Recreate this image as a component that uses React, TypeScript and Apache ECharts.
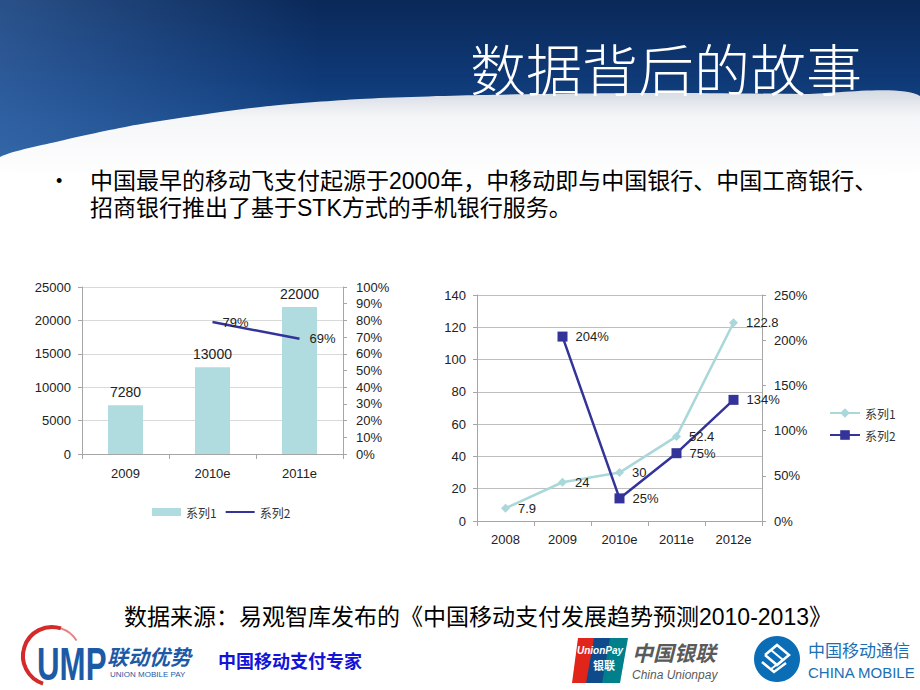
import React, { useEffect, useRef } from "react";
import * as echarts from "echarts";

// ---- data ----
const leftCategories = ["2009", "2010e", "2011e"];
const leftUsers = [7280, 13000, 22000];
const leftGrowth = [null, 0.79, 0.69];

const rightCategories = ["2008", "2009", "2010e", "2011e", "2012e"];
const rightScale = [7.9, 24, 30, 52.4, 122.8];
const rightGrowth = [null, 2.04, 0.25, 0.75, 1.34];

const leftYTicks = { min: 0, max: 25000, interval: 5000 };
const leftPctTicks = { min: 0, max: 1, interval: 0.1 };
const rightYTicks = { min: 0, max: 140, interval: 20 };
const rightPctTicks = { min: 0, max: 2.5, interval: 0.5 };

const titleText = "数据背后的故事";
const bulletLines = [
  "中国最早的移动飞支付起源于2000年，中移动即与中国银行、中国工商银行、",
  "招商银行推出了基于STK方式的手机银行服务。",
];
const sourceText = "数据来源：易观智库发布的《中国移动支付发展趋势预测2010-2013》";

const FONT = "'Liberation Sans', Arial, 'Noto Sans CJK SC', sans-serif";
const CJK = "'Noto Sans CJK SC', sans-serif";
const DARK = "#333399";
const LIGHT = "#a9d7da";

const pct = (v: number) => Math.round(v * 100) + "%";

export default function App() {
  const ref = useRef<HTMLDivElement>(null);
  useEffect(() => {
    if (!ref.current) return;
    const chart = echarts.init(ref.current, null, { renderer: "svg" });
    const axisLabel = { fontSize: 13, color: "#222", fontFamily: FONT };
    const axisLine = { show: true, lineStyle: { color: "#a6a6a6", width: 1 } };
    const axisTick = { show: true, length: 4, lineStyle: { color: "#a6a6a6" } };

    const option: any = {
      animation: false,
      backgroundColor: "#ffffff",
      textStyle: { fontFamily: FONT },
      graphic: [
        // header banner
        {
          type: "rect",
          z: -20,
          shape: { x: 0, y: 0, width: 920, height: 165 },
          style: {
            fill: new echarts.graphic.LinearGradient(0, 0, 0, 1, [
              { offset: 0, color: "#0a2858" },
              { offset: 0.5, color: "#0f3a78" },
              { offset: 1, color: "#1c5294" },
            ]),
          },
        },
        {
          type: "rect",
          z: -19,
          shape: { x: 0, y: 0, width: 320, height: 165 },
          style: {
            fill: new echarts.graphic.LinearGradient(0, 0, 1, 0, [
              { offset: 0, color: "rgba(80,130,195,0.45)" },
              { offset: 1, color: "rgba(80,130,195,0)" },
            ]),
          },
        },
        {
          type: "polygon",
          z: -18,
          shape: {
            points: [
              [0, 157], [60, 141], [130, 126], [200, 115], [270, 106],
              [360, 99], [480, 95], [650, 93], [800, 94], [920, 96],
              [920, 172], [0, 172],
            ],
            smooth: 0.25,
          },
          style: {
            fill: new echarts.graphic.LinearGradient(0, 0, 0, 1, [
              { offset: 0, color: "#d5dae2" },
              { offset: 0.3, color: "#f5f6f8" },
              { offset: 1, color: "#ffffff" },
            ]),
          },
        },
        {
          type: "text",
          z: 10,
          x: 470,
          y: 66,
          style: {
            text: titleText,
            fill: "#ffffff",
            font: `300 56px ${CJK}`,
            verticalAlign: "middle",
            textAlign: "left",
          },
        },
        // bullet
        {
          type: "text",
          x: 56,
          y: 181,
          style: { text: "•", fill: "#000", font: `18px ${FONT}`, verticalAlign: "middle" },
        },
        {
          type: "text",
          x: 90,
          y: 181,
          style: { text: bulletLines[0], fill: "#000", font: `23px ${FONT}`, verticalAlign: "middle" },
        },
        {
          type: "text",
          x: 90,
          y: 208,
          style: { text: bulletLines[1], fill: "#000", font: `23px ${FONT}`, verticalAlign: "middle" },
        },
        // source
        {
          type: "text",
          x: 478,
          y: 617,
          style: {
            text: sourceText,
            fill: "#000",
            font: `23px ${FONT}`,
            verticalAlign: "middle",
            textAlign: "center",
          },
        },
        // UMP logo
        {
          type: "arc",
          shape: { cx: 52, cy: 656, r: 29, startAngle: Math.PI * 0.6, endAngle: Math.PI * 1.6 },
          style: { stroke: "#d42a2a", lineWidth: 4, fill: null },
        },
        {
          type: "arc",
          shape: { cx: 52, cy: 656, r: 29, startAngle: Math.PI * 1.6, endAngle: Math.PI * 1.82 },
          style: { stroke: "#e88080", lineWidth: 2, fill: null },
        },
        {
          type: "text",
          x: 37,
          y: 664,
          scaleX: 0.68,
          style: {
            text: "UMP",
            fill: "#1d5aa5",
            font: `bold 46px ${FONT}`,
            verticalAlign: "middle",
          },
        },
        {
          type: "text",
          x: 107,
          y: 656,
          style: { text: "联动优势", fill: "#1d5aa5", font: `italic bold 21px ${CJK}`, verticalAlign: "middle" },
        },
        {
          type: "text",
          x: 110,
          y: 674,
          style: { text: "UNION MOBILE PAY", fill: "#1d5aa5", font: `8px ${FONT}`, verticalAlign: "middle" },
        },
        {
          type: "text",
          x: 218,
          y: 660,
          style: { text: "中国移动支付专家", fill: "#1414d8", font: `bold 18px ${CJK}`, verticalAlign: "middle" },
        },
        // UnionPay logo
        {
          type: "polygon",
          shape: { points: [[578, 638], [598, 638], [590, 683], [572, 683]] },
          style: { fill: "#e1251b" },
        },
        {
          type: "polygon",
          shape: { points: [[594, 638], [614, 638], [606, 683], [586, 683]] },
          style: { fill: "#0f4a8a" },
        },
        {
          type: "polygon",
          shape: { points: [[610, 638], [628, 638], [620, 683], [602, 683]] },
          style: { fill: "#00808a" },
        },
        {
          type: "text",
          x: 600,
          y: 650,
          style: { text: "UnionPay", fill: "#fff", font: `italic bold 10px ${FONT}`, textAlign: "center", verticalAlign: "middle" },
        },
        {
          type: "text",
          x: 604,
          y: 665,
          style: { text: "银联", fill: "#fff", font: `bold 11px ${CJK}`, textAlign: "center", verticalAlign: "middle" },
        },
        {
          type: "text",
          x: 632,
          y: 652,
          style: { text: "中国银联", fill: "#5a5a5a", font: `italic bold 21px ${CJK}`, verticalAlign: "middle" },
        },
        {
          type: "text",
          x: 632,
          y: 675,
          style: { text: "China Unionpay", fill: "#5a5a5a", font: `italic 12px ${FONT}`, verticalAlign: "middle" },
        },
        // China Mobile logo
        {
          type: "circle",
          shape: { cx: 777, cy: 659, r: 23 },
          style: { fill: "#0b6db5" },
        },
        {
          type: "polyline",
          shape: { points: [[765, 655], [777, 645], [789, 655], [777, 665], [765, 655]] },
          style: { stroke: "#fff", lineWidth: 2.5, fill: null },
        },
        {
          type: "polyline",
          shape: { points: [[762, 662], [774, 672], [786, 663]] },
          style: { stroke: "#fff", lineWidth: 2.5, fill: null },
        },
        {
          type: "polyline",
          shape: { points: [[771, 650], [783, 660], [771, 669]] },
          style: { stroke: "#fff", lineWidth: 2, fill: null },
        },
        {
          type: "text",
          x: 808,
          y: 649,
          style: { text: "中国移动通信", fill: "#1a6fb5", font: `17px ${CJK}`, verticalAlign: "middle" },
        },
        {
          type: "text",
          x: 808,
          y: 672,
          style: { text: "CHINA MOBILE", fill: "#1a6fb5", font: `15px ${FONT}`, verticalAlign: "middle" },
        },
      ],
      legend: [
        {
          left: 147,
          top: 501,
          itemWidth: 29,
          itemHeight: 8,
          itemGap: 8,
          textStyle: { fontSize: 12, color: "#333", fontFamily: CJK },
          data: [
            { name: "系列1", icon: "rect" },
            { name: "系列2", itemStyle: { color: "rgba(0,0,0,0)", borderWidth: 0, opacity: 0 } },
          ],
        },
        {
          orient: "vertical",
          left: 824,
          top: 402,
          itemWidth: 30,
          itemHeight: 12,
          itemGap: 10,
          textStyle: { fontSize: 12, color: "#333", fontFamily: CJK },
          data: ["r1", "r2"],
          formatter: (n: string) => (n === "r1" ? "系列1" : "系列2"),
        },
      ],
      grid: [
        { left: 82, top: 287, width: 261, height: 167, containLabel: false },
        { left: 477, top: 295, width: 285, height: 226, containLabel: false },
      ],
      xAxis: [
        {
          type: "category",
          gridIndex: 0,
          data: leftCategories,
          axisLine,
          axisTick: { show: true, length: 5, lineStyle: { color: "#a6a6a6" } },
          axisLabel: { ...axisLabel, margin: 13 },
        },
        {
          type: "category",
          gridIndex: 1,
          data: rightCategories,
          axisLine,
          axisTick: { show: true, length: 5, lineStyle: { color: "#a6a6a6" } },
          axisLabel: { ...axisLabel, margin: 12 },
        },
      ],
      yAxis: [
        {
          type: "value",
          gridIndex: 0,
          ...leftYTicks,
          axisLine,
          axisTick,
          axisLabel: { ...axisLabel, margin: 11, formatter: (v: number) => String(v) },
          splitLine: { show: true, lineStyle: { color: "#d9d9d9" } },
        },
        {
          type: "value",
          gridIndex: 0,
          position: "right",
          ...leftPctTicks,
          axisLine,
          axisTick,
          axisLabel: { ...axisLabel, margin: 13, formatter: (v: number) => pct(v) },
          splitLine: { show: false },
        },
        {
          type: "value",
          gridIndex: 1,
          ...rightYTicks,
          axisLine,
          axisTick,
          axisLabel: { ...axisLabel, margin: 11, formatter: (v: number) => String(v) },
          splitLine: { show: true, lineStyle: { color: "#bfbfbf" } },
        },
        {
          type: "value",
          gridIndex: 1,
          position: "right",
          ...rightPctTicks,
          axisLine,
          axisTick,
          axisLabel: { ...axisLabel, margin: 12, formatter: (v: number) => pct(v) },
          splitLine: { show: false },
        },
      ],
      series: [
        {
          name: "系列1",
          type: "bar",
          xAxisIndex: 0,
          yAxisIndex: 0,
          data: leftUsers,
          barWidth: 35,
          itemStyle: { color: "#b1dcdf" },
          label: { show: true, position: "top", fontSize: 14, color: "#222", distance: 6 },
        },
        {
          name: "系列2",
          type: "line",
          xAxisIndex: 0,
          yAxisIndex: 1,
          data: leftGrowth,
          symbol: "circle",
          symbolSize: 0,
          showSymbol: true,
          lineStyle: { color: DARK, width: 2.5 },
          itemStyle: { color: DARK },
          label: {
            show: true,
            position: "right",
            distance: 10,
            fontSize: 13,
            color: "#222",
            formatter: (p: any) => pct(p.value),
          },
        },
        {
          name: "r1",
          type: "line",
          xAxisIndex: 1,
          yAxisIndex: 2,
          data: rightScale,
          symbol: "diamond",
          symbolSize: 9,
          lineStyle: { color: LIGHT, width: 2.5 },
          itemStyle: { color: LIGHT },
          label: { show: true, position: "right", distance: 8, fontSize: 13, color: "#222" },
        },
        {
          name: "r2",
          type: "line",
          xAxisIndex: 1,
          yAxisIndex: 3,
          data: rightGrowth,
          symbol: "rect",
          symbolSize: 10,
          lineStyle: { color: DARK, width: 2.5 },
          itemStyle: { color: DARK },
          label: {
            show: true,
            position: "right",
            distance: 8,
            fontSize: 13,
            color: "#222",
            formatter: (p: any) => pct(p.value),
          },
        },
      ],
    };
    chart.setOption(option);
    return () => chart.dispose();
  }, []);
  return (
    <div
      ref={ref}
      style={{ position: "fixed", left: 0, top: 0, width: 920, height: 690 }}
    />
  );
}
